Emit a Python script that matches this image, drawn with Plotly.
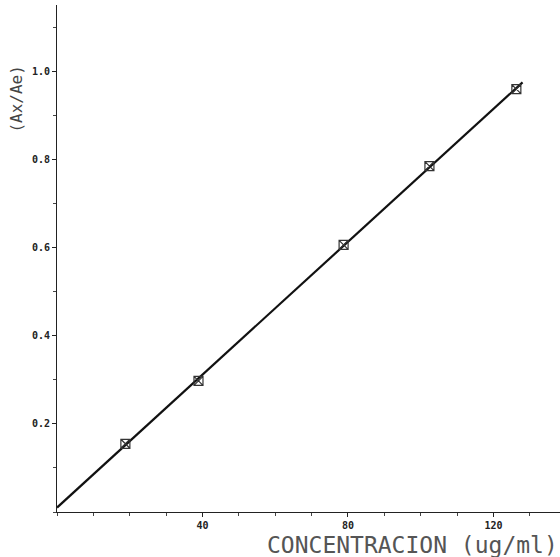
import numpy as np
import plotly.graph_objects as go

# Data
conc = [18.8, 38.9, 78.8, 102.4, 126.3]          # ug/ml
ratio = [0.155, 0.298, 0.607, 0.786, 0.961]      # Ax/Ae
x_ticks = [40, 80, 120]
x_tick_text = ["40", "80", "120"]
y_ticks = [0.2, 0.4, 0.6, 0.8, 1.0]
y_tick_text = ["0.2", "0.4", "0.6", "0.8", "1.0"]
fit_range = [0, 128]

slope, intercept = np.polyfit(conc, ratio, 1)
fx = np.array(fit_range, dtype=float)
fy = slope * fx + intercept

fig = go.Figure()
fig.add_trace(go.Scatter(x=fx, y=fy, mode="lines",
                         line=dict(color="#111111", width=2.2), showlegend=False,
                         hoverinfo="skip"))
fig.add_trace(go.Scatter(x=conc, y=ratio, mode="markers",
                         marker=dict(symbol="square-x-open", size=9,
                                     color="#333333", line=dict(width=1.2, color="#333333")),
                         showlegend=False))

tickfont = dict(family="DejaVu Sans Mono", size=10, color="#222222", weight="bold")
fig.update_layout(
    width=560, height=557,
    margin=dict(l=57, r=0, t=5, b=45),
    paper_bgcolor="white", plot_bgcolor="white",
    xaxis=dict(range=[0, 138.3], showgrid=False, zeroline=False,
               showline=True, linecolor="#222222", linewidth=1,
               tickmode="array", tickvals=x_ticks, ticktext=x_tick_text,
               ticks="outside", ticklen=4, tickcolor="#222222", tickfont=tickfont,
               minor=dict(dtick=10, tick0=0, ticks="outside", ticklen=3, tickcolor="#444444")),
    yaxis=dict(range=[0, 1.152], showgrid=False, zeroline=False,
               showline=True, linecolor="#222222", linewidth=1,
               tickmode="array", tickvals=y_ticks, ticktext=y_tick_text,
               ticks="outside", ticklen=4, tickcolor="#222222", tickfont=tickfont,
               minor=dict(dtick=0.1, tick0=0, ticks="outside", ticklen=3, tickcolor="#444444")),
    annotations=[
        dict(text="CONCENTRACION (ug/ml)", xref="paper", yref="paper",
             x=1.0, y=-0.065, xanchor="right", yanchor="middle", showarrow=False,
             font=dict(family="DejaVu Sans Mono", size=23, color="#555555")),
        dict(text="(Ax/Ae)", xref="paper", yref="paper",
             x=-0.08, y=0.815, xanchor="center", yanchor="middle", showarrow=False,
             textangle=-90,
             font=dict(family="DejaVu Sans Mono", size=16, color="#444444")),
    ],
)

fig.write_html("out.html")
